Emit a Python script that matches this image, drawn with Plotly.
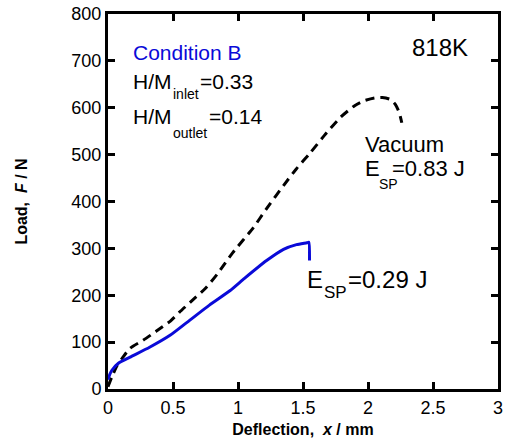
import plotly.graph_objects as go

# Vacuum (black dashed)
vac_x = [0.0, 0.03, 0.07, 0.11, 0.17, 0.27, 0.37, 0.48, 0.55, 0.64, 0.75, 0.84, 0.96, 1.12, 1.22, 1.35, 1.45, 1.55, 1.68, 1.79, 1.9, 1.97, 2.05, 2.11, 2.17, 2.21, 2.24, 2.26]
vac_y = [5, 26, 50, 66, 87, 104, 123, 145, 164, 187, 215, 245, 291, 345, 385, 434, 470, 502, 546, 580, 605, 615, 621, 622, 618, 607, 590, 568]

# Condition B (blue solid)
cb_x = [0.0, 0.015, 0.03, 0.08, 0.17, 0.32, 0.48, 0.63, 0.78, 0.94, 1.05, 1.22, 1.35, 1.45, 1.53, 1.545, 1.55]
cb_y = [20, 32, 40, 55, 68, 89, 115, 147, 179, 210, 236, 274, 298, 308, 312, 313, 274]

xticks = [0, 0.5, 1, 1.5, 2, 2.5, 3]
xticklabels = ["0", "0.5", "1", "1.5", "2", "2.5", "3"]
yticks = [0, 100, 200, 300, 400, 500, 600, 700, 800]

FONT = "Liberation Sans, Arial, sans-serif"
BLUE = "#0a0ad8"

fig = go.Figure()
fig.add_trace(go.Scatter(x=vac_x, y=vac_y, mode="lines",
                         line=dict(color="black", width=3, dash="9px,6px", shape="spline", smoothing=0.6),
                         showlegend=False))
fig.add_trace(go.Scatter(x=cb_x, y=cb_y, mode="lines",
                         line=dict(color=BLUE, width=3, shape="spline", smoothing=0.5),
                         showlegend=False))

# (x, y, text, size, color)
ann = [
    (0.185, 717, "Condition B", 21, BLUE),
    (0.185, 657, "H/M", 21, "black"),
    (0.492, 630, "inlet", 14, "black"),
    (0.70, 657, "=0.33", 21, "black"),
    (0.185, 581, "H/M", 21, "black"),
    (0.492, 547, "outlet", 14, "black"),
    (0.769, 581, "=0.14", 21, "black"),
    (2.331, 728, "818K", 24, "black"),
    (1.969, 521, "Vacuum", 22, "black"),
    (1.969, 470, "E", 22, "black"),
    (2.077, 438, "SP", 14, "black"),
    (2.177, 470, "=0.83 J", 22, "black"),
    (1.523, 234, "E", 24, "black"),
    (1.654, 206, "SP", 17, "black"),
    (1.838, 234, "=0.29 J", 24, "black"),
]
for x, y, t, s, c in ann:
    fig.add_annotation(x=x, y=y, xref="x", yref="y", text=t,
                       showarrow=False, xanchor="left", yanchor="middle", borderpad=0,
                       font=dict(family=FONT, size=s, color=c))

axis_common = dict(showline=True, linewidth=3, linecolor="black", mirror="ticks",
                   ticks="inside", ticklen=7, tickwidth=3, tickcolor="black",
                   showgrid=False, zeroline=False, automargin=False,
                   tickfont=dict(family=FONT, size=18, color="black"))

fig.update_xaxes(range=[0, 3], tickvals=xticks, ticktext=xticklabels,
                 title=dict(text="Deflection,  <i>x</i> / mm", standoff=8,
                            font=dict(family=FONT, size=16, color="black", weight="bold")),
                 **axis_common)
fig.update_yaxes(range=[0, 800], tickvals=yticks,
                 title=dict(text="Load,  <i>F</i> / N", standoff=40,
                            font=dict(family=FONT, size=16, color="black", weight="bold")),
                 **axis_common)

fig.update_layout(width=508, height=446, margin=dict(l=108, r=10, t=14, b=57),
                  plot_bgcolor="white", paper_bgcolor="white")

fig.write_html("out.html")
